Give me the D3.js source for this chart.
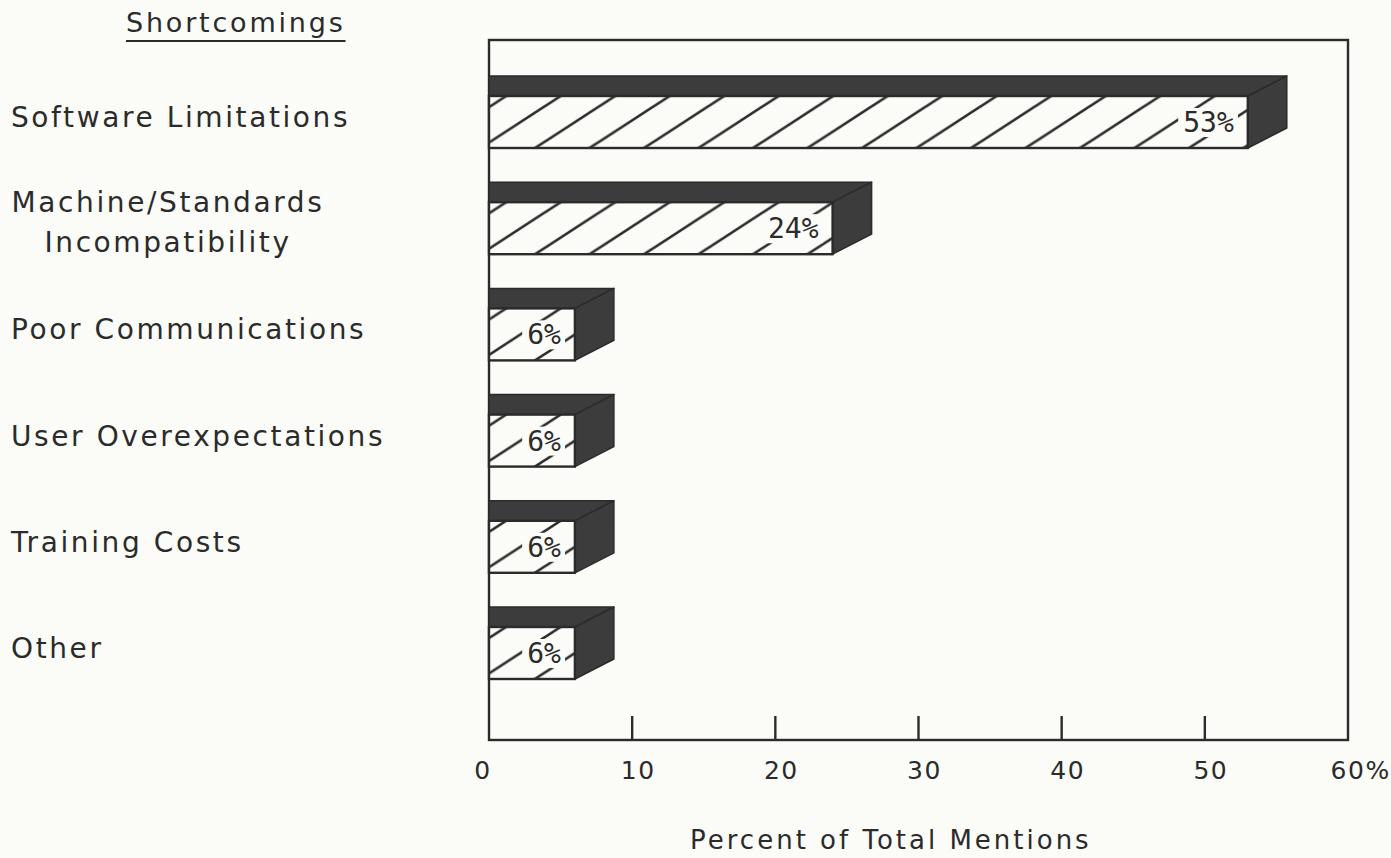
<!DOCTYPE html>
<html>
<head>
<meta charset="utf-8">
<script src="https://cdn.jsdelivr.net/npm/d3@7"></script>
<style>
  html, body { margin: 0; padding: 0; background: #fbfbf8; }
  svg { display: block; }
  text { fill: #2b2b2b; }
</style>
</head>
<body>
<svg id="chart" width="1391" height="858"></svg>
<script>
// Shortcomings, as percent of total mentions
const categories = [
  "Software Limitations",
  "Machine/Standards Incompatibility",
  "Poor Communications",
  "User Overexpectations",
  "Training Costs",
  "Other"
];
const categoryLines = [
  ["Software Limitations"],
  ["Machine/Standards", "Incompatibility"],
  ["Poor Communications"],
  ["User Overexpectations"],
  ["Training Costs"],
  ["Other"]
];
const values = [53, 24, 6, 6, 6, 6];
const xTicks = [0, 10, 20, 30, 40, 50, 60];
const yTitle = "Shortcomings";
const xTitle = "Percent of Total Mentions";

const svg = d3.select("#chart");
const ink = "#2b2b2b";
const shade = "#3c3c3c";
const paper = "#fbfbf8";

const frame = { left: 489, right: 1348, top: 40, bottom: 740 };

const x = d3.scaleLinear().domain([0, 60]).range([frame.left, frame.right]);
const y = d3.scalePoint().domain(categories).range([96, 627]);

const faceH = 52;   // front face height
const depthX = 39;  // 3-D offset
const depthY = 20;

// hatch pattern for bar fronts
const defs = svg.append("defs");
const pw = 54.5, ph = pw * Math.tan(33 * Math.PI / 180);
const pat = defs.append("pattern")
  .attr("id", "hatch")
  .attr("patternUnits", "userSpaceOnUse")
  .attr("width", pw).attr("height", ph);
pat.append("rect").attr("width", pw).attr("height", ph).attr("fill", paper);
[-pw, 0, pw].forEach(off => {
  pat.append("line")
    .attr("x1", -pw + off).attr("y1", 2 * ph)
    .attr("x2", 2 * pw + off).attr("y2", -ph)
    .attr("stroke", ink).attr("stroke-width", 2.6);
});

// frame
svg.append("rect")
  .attr("x", frame.left).attr("y", frame.top)
  .attr("width", frame.right - frame.left).attr("height", frame.bottom - frame.top)
  .attr("fill", "none").attr("stroke", ink).attr("stroke-width", 2.4);

// bars
const data = categories.map((c, i) => ({ cat: c, value: values[i], lines: categoryLines[i] }));
const bars = svg.append("g").selectAll("g").data(data).join("g");

bars.each(function (d) {
  const g = d3.select(this);
  const x0 = x(0), x1 = x(d.value);
  const yT = y(d.cat), yB = yT + faceH;

  // top face
  g.append("path")
    .attr("d", `M${x0},${yT} L${x0},${yT - depthY} L${x1 + depthX},${yT - depthY} L${x1},${yT} Z`)
    .attr("fill", shade).attr("stroke", ink).attr("stroke-width", 1.5).attr("stroke-linejoin", "round");
  // side face
  g.append("path")
    .attr("d", `M${x1},${yT} L${x1 + depthX},${yT - depthY} L${x1 + depthX},${yB - depthY} L${x1},${yB} Z`)
    .attr("fill", shade).attr("stroke", ink).attr("stroke-width", 1.5).attr("stroke-linejoin", "round");
  // front face
  g.append("rect")
    .attr("x", x0).attr("y", yT)
    .attr("width", x1 - x0).attr("height", faceH)
    .attr("fill", "url(#hatch)")
    .attr("stroke", ink).attr("stroke-width", 2.4);

  // value label with a cleared box behind it
  const lbl = g.append("text")
    .attr("x", x1 - 14).attr("y", yT + faceH / 2 + 10)
    .attr("text-anchor", "end")
    .attr("font-family", "'DejaVu Sans Mono', monospace")
    .attr("font-size", 28)
    .text(d.value + "%");
  const bb = lbl.node().getBBox();
  g.insert("rect", "text")
    .attr("x", bb.x - 5).attr("y", bb.y + 2)
    .attr("width", bb.width + 9).attr("height", bb.height - 4)
    .attr("fill", paper);
});

// category labels
const labels = svg.append("g")
  .attr("font-family", "'DejaVu Sans', sans-serif")
  .attr("font-size", 28)
  .attr("letter-spacing", 2.6);
data.forEach(d => {
  const yT = y(d.cat);
  if (d.lines.length === 1) {
    labels.append("text").attr("x", 11).attr("y", yT + 31).text(d.lines[0]);
  } else {
    const t = labels.append("text").attr("text-anchor", "middle");
    t.append("tspan").attr("x", 168).attr("y", yT + 10).text(d.lines[0]);
    t.append("tspan").attr("x", 168).attr("y", yT + 50).text(d.lines[1]);
  }
});

// column heading
const head = svg.append("text")
  .attr("x", 126).attr("y", 32)
  .attr("font-family", "'DejaVu Sans', sans-serif")
  .attr("font-size", 27)
  .attr("letter-spacing", 2.8)
  .text(yTitle);
const hb = head.node().getBBox();
svg.append("line")
  .attr("x1", hb.x).attr("x2", hb.x + hb.width)
  .attr("y1", 41).attr("y2", 41)
  .attr("stroke", ink).attr("stroke-width", 2);

// x ticks
const tickG = svg.append("g");
tickG.selectAll("line").data(xTicks.filter(v => v > 0 && v < 60)).join("line")
  .attr("x1", v => x(v)).attr("x2", v => x(v))
  .attr("y1", frame.bottom - 24).attr("y2", frame.bottom)
  .attr("stroke", ink).attr("stroke-width", 2.4);

tickG.selectAll("text").data(xTicks).join("text")
  .attr("font-family", "'DejaVu Sans', sans-serif")
  .attr("font-size", 25)
  .attr("letter-spacing", 1.5)
  .attr("y", 779)
  .each(function (v, i) {
    const t = d3.select(this);
    if (i === xTicks.length - 1) {
      t.text(v);
      const w = this.getComputedTextLength();
      t.text(v + "%").attr("x", x(v) - w / 2).attr("text-anchor", "start");
    } else {
      t.text(v).attr("x", x(v) + (v === 0 ? -6 : 6)).attr("text-anchor", "middle");
    }
  });

// x title
svg.append("text")
  .attr("x", 690).attr("y", 849)
  .attr("font-family", "'DejaVu Sans', sans-serif")
  .attr("font-size", 26)
  .attr("letter-spacing", 3)
  .text(xTitle);
</script>
</body>
</html>
